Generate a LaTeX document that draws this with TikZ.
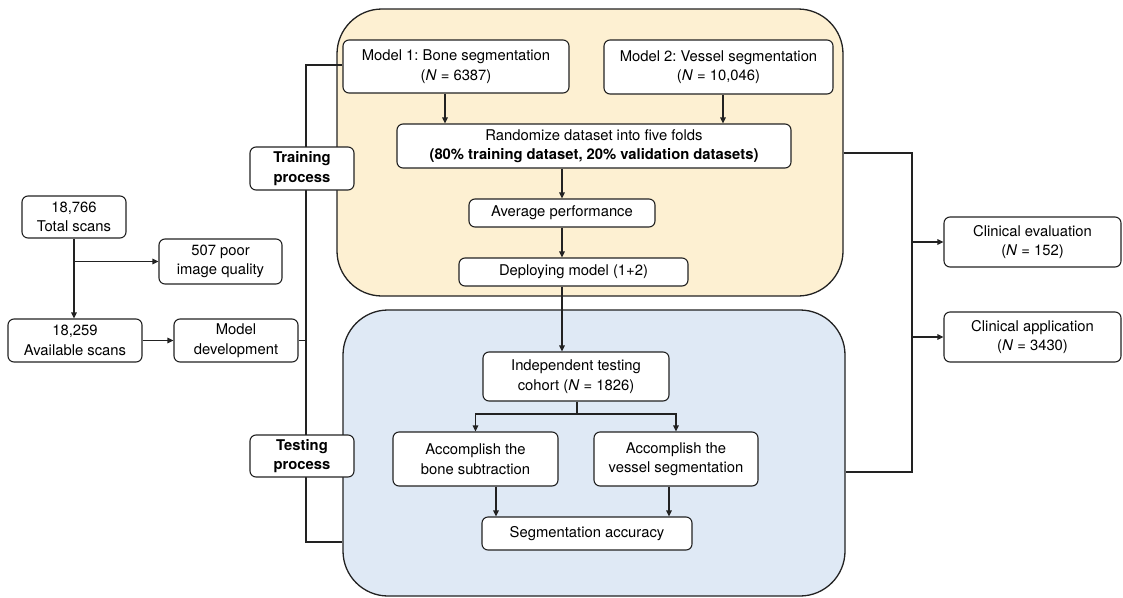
\documentclass[tikz,border=0pt]{standalone}
\usepackage{fontspec}
\setmainfont{TeX Gyre Heros}
\usetikzlibrary{arrows.meta,calc}
\definecolor{ylw}{HTML}{FDF0D2}
\definecolor{blu}{HTML}{DFE9F5}
\definecolor{ln}{HTML}{222222}
\frenchspacing
\begin{document}
\begin{tikzpicture}[x=1pt,y=-1pt,
  every node/.style={font=\fontsize{14.8}{19.5}\selectfont},
  bx/.style={draw=ln,line width=1.1pt,rounded corners=6pt,fill=white,align=center,inner sep=0pt},
  cont/.style={draw=ln,line width=1.3pt,rounded corners=45pt,inner sep=0pt},
  ln/.style={draw=ln,line width=1.1pt},
  arr/.style={ln,-{Triangle[length=6pt,width=5.5pt]}}]
\useasboundingbox (0,0) rectangle (1123,597);
% containers
\node[cont,fill=ylw,minimum width=506pt,minimum height=287pt] (ytr) at (590,152.5) {};
\node[cont,fill=blu,minimum width=502pt,minimum height=286pt] (bte) at (594,453) {};
% left boxes
\node[bx,minimum width=104pt,minimum height=42pt] (tot) at (74,217) {18,766\\Total scans};
\node[bx,minimum width=123pt,minimum height=45pt] (poor) at (220.5,261.5) {507 poor\\image quality};
\node[bx,minimum width=134pt,minimum height=43pt] (avail) at (75,340.5) {18,259\\Available scans};
\node[bx,minimum width=124pt,minimum height=43pt] (mdev) at (236,340.5) {Model\\development};
% training
\node[bx,minimum width=226pt,minimum height=53pt] (m1) at (456,66.5) {Model 1: Bone segmentation\\(\textit{N} = 6387)};
\node[bx,minimum width=229pt,minimum height=54pt] (m2) at (718.5,67) {Model 2: Vessel segmentation\\(\textit{N} = 10,046)};
\node[bx,minimum width=394pt,minimum height=44pt] (rand) at (594,146) {Randomize dataset into five folds\\\textbf{(80\% training dataset, 20\% validation datasets)}};
\node[bx,minimum width=186pt,minimum height=28pt] (avg) at (562,213) {Average performance};
\node[bx,minimum width=229pt,minimum height=28pt] (dep) at (573.5,272) {Deploying model (1+2)};
% testing
\node[bx,minimum width=186pt,minimum height=49pt] (ind) at (576,376.5) {Independent testing\\cohort (\textit{N} = 1826)};
\node[bx,minimum width=165pt,minimum height=54pt] (bone) at (475.5,459) {Accomplish the\\bone subtraction};
\node[bx,minimum width=164pt,minimum height=54pt] (vess) at (676,459) {Accomplish the\\vessel segmentation};
\node[bx,minimum width=210pt,minimum height=33pt] (acc) at (587,533.5) {Segmentation accuracy};
% right
\node[bx,minimum width=177pt,minimum height=50pt] (ceval) at (1032.5,242) {Clinical evaluation\\(\textit{N} = 152)};
\node[bx,minimum width=177pt,minimum height=50pt] (capp) at (1032.5,337) {Clinical application\\(\textit{N} = 3430)};
% coordinates
\coordinate (lt) at (306,65);
\coordinate (lb) at (306,542);
\coordinate (rt) at (912,153);
\coordinate (rb) at (912,472);
\coordinate (br) at (577,414);
% left connectors
\draw[arr] (tot.south) -- (tot.south |- avail.north);
\draw[arr] (tot.south |- poor.west) -- (poor.west);
\draw[arr] (avail.east) -- (mdev.west);
\draw[ln] (lt -| m1.west) -- (lt) -- (lb) -- (lb -| bte.west);
\draw[ln] (mdev.east) -- (mdev.east -| lt);
\node[bx,minimum width=104pt,minimum height=43pt,font=\fontsize{14.8}{19.5}\selectfont\bfseries] (train) at (302,168.5) {Training\\process};
\node[bx,minimum width=104pt,minimum height=42pt,font=\fontsize{14.8}{19.5}\selectfont\bfseries] (test) at (302,456) {Testing\\process};
% right connectors
\draw[ln] (rt -| ytr.east) -- (rt) -- (rb) -- (rb -| bte.east);
\draw[arr] (rt |- ceval.west) -- (ceval.west);
\draw[arr] (rt |- capp.west) -- (capp.west);
% training connectors
\draw[arr] ([xshift=-11pt]m1.south) -- ([xshift=-11pt]m1.south |- rand.north);
\draw[arr] ([xshift=4.5pt]m2.south) -- ([xshift=4.5pt]m2.south |- rand.north);
\draw[arr] (avg.north |- rand.south) -- (avg.north);
\draw[arr] (avg.south) -- (avg.south |- dep.north);
\draw[arr] (avg.south |- dep.south) -- (avg.south |- ind.north);
% testing connectors
\draw[ln] (ind.south -| br) -- (br);
\draw[arr] (br) -| (bone.north);
\draw[arr] (br) -| (vess.north);
\draw[arr] ([xshift=20.5pt]bone.south) -- ([xshift=20.5pt]bone.south |- acc.north);
\draw[arr] ([xshift=-7pt]vess.south) -- ([xshift=-7pt]vess.south |- acc.north);
\end{tikzpicture}
\end{document}
